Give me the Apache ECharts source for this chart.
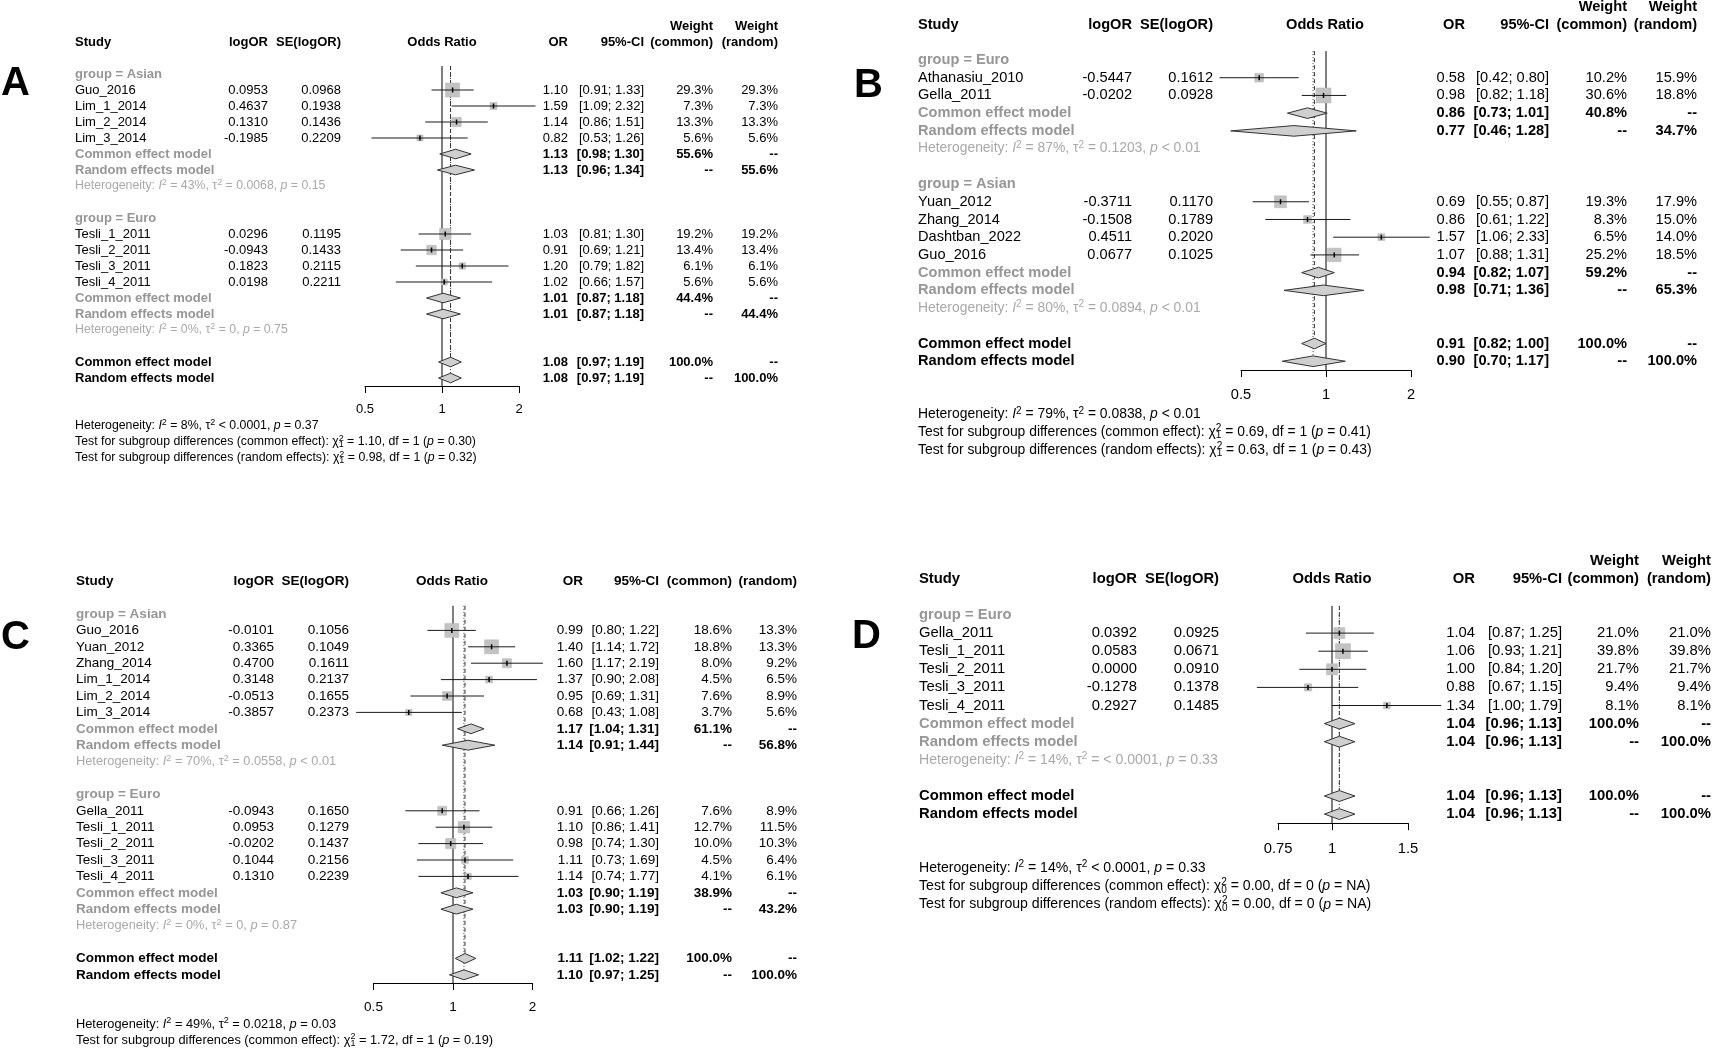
<!DOCTYPE html>
<html><head><meta charset="utf-8">
<script src="https://cdn.jsdelivr.net/npm/echarts@6.0.0/dist/echarts.min.js"></script>
<style>html,body{margin:0;padding:0;background:#fff}#c{width:1713px;height:1049px}</style>
</head><body><div id="c"></div>
<script>
const FONT = 'Liberation Sans, Arial, Helvetica, sans-serif';
const L2 = v => Math.log(v) / Math.LN2;

// ---------- Panel A ----------
const A_study = ['Guo_2016','Lim_1_2014','Lim_2_2014','Lim_3_2014','Tesli_1_2011','Tesli_2_2011','Tesli_3_2011','Tesli_4_2011'];
const A_group = ['Asian','Asian','Asian','Asian','Euro','Euro','Euro','Euro'];
const A_logOR = [0.0953,0.4637,0.1310,-0.1985,0.0296,-0.0943,0.1823,0.0198];
const A_se = [0.0968,0.1938,0.1436,0.2209,0.1195,0.1433,0.2115,0.2211];
const A_or = [1.10,1.59,1.14,0.82,1.03,0.91,1.20,1.02];
const A_lo = [0.91,1.09,0.86,0.53,0.81,0.69,0.79,0.66];
const A_hi = [1.33,2.32,1.51,1.26,1.30,1.21,1.82,1.57];
const A_wc = [29.3,7.3,13.3,5.6,19.2,13.4,6.1,5.6];
const A_wr = [29.3,7.3,13.3,5.6,19.2,13.4,6.1,5.6];
const A_sub = ['Asian','Euro'];
const A_subC = [[1.13,0.98,1.30],[1.01,0.87,1.18]];
const A_subCW = [55.6,44.4];
const A_subR = [[1.13,0.96,1.34],[1.01,0.87,1.18]];
const A_subRW = [55.6,44.4];
const A_subHet = [['43%','= 0.0068','= 0.15'],['0%','= 0','= 0.75']];
const A_allC = [1.08,0.97,1.19];
const A_allR = [1.08,0.97,1.19];
const A_allHet = ['8%','< 0.0001','= 0.37'];
const A_tests = [['common effect','1','1.10','1','= 0.30'],['random effects','1','0.98','1','= 0.32']];

// ---------- Panel B ----------
const B_study = ['Athanasiu_2010','Gella_2011','Yuan_2012','Zhang_2014','Dashtban_2022','Guo_2016'];
const B_group = ['Euro','Euro','Asian','Asian','Asian','Asian'];
const B_logOR = [-0.5447,-0.0202,-0.3711,-0.1508,0.4511,0.0677];
const B_se = [0.1612,0.0928,0.1170,0.1789,0.2020,0.1025];
const B_or = [0.58,0.98,0.69,0.86,1.57,1.07];
const B_lo = [0.42,0.82,0.55,0.61,1.06,0.88];
const B_hi = [0.80,1.18,0.87,1.22,2.33,1.31];
const B_wc = [10.2,30.6,19.3,8.3,6.5,25.2];
const B_wr = [15.9,18.8,17.9,15.0,14.0,18.5];
const B_sub = ['Euro','Asian'];
const B_subC = [[0.86,0.73,1.01],[0.94,0.82,1.07]];
const B_subCW = [40.8,59.2];
const B_subR = [[0.77,0.46,1.28],[0.98,0.71,1.36]];
const B_subRW = [34.7,65.3];
const B_subHet = [['87%','= 0.1203','< 0.01'],['80%','= 0.0894','< 0.01']];
const B_allC = [0.91,0.82,1.00];
const B_allR = [0.90,0.70,1.17];
const B_allHet = ['79%','= 0.0838','< 0.01'];
const B_tests = [['common effect','1','0.69','1','= 0.41'],['random effects','1','0.63','1','= 0.43']];

// ---------- Panel C ----------
const C_study = ['Guo_2016','Yuan_2012','Zhang_2014','Lim_1_2014','Lim_2_2014','Lim_3_2014','Gella_2011','Tesli_1_2011','Tesli_2_2011','Tesli_3_2011','Tesli_4_2011'];
const C_group = ['Asian','Asian','Asian','Asian','Asian','Asian','Euro','Euro','Euro','Euro','Euro'];
const C_logOR = [-0.0101,0.3365,0.4700,0.3148,-0.0513,-0.3857,-0.0943,0.0953,-0.0202,0.1044,0.1310];
const C_se = [0.1056,0.1049,0.1611,0.2137,0.1655,0.2373,0.1650,0.1279,0.1437,0.2156,0.2239];
const C_or = [0.99,1.40,1.60,1.37,0.95,0.68,0.91,1.10,0.98,1.11,1.14];
const C_lo = [0.80,1.14,1.17,0.90,0.69,0.43,0.66,0.86,0.74,0.73,0.74];
const C_hi = [1.22,1.72,2.19,2.08,1.31,1.08,1.26,1.41,1.30,1.69,1.77];
const C_wc = [18.6,18.8,8.0,4.5,7.6,3.7,7.6,12.7,10.0,4.5,4.1];
const C_wr = [13.3,13.3,9.2,6.5,8.9,5.6,8.9,11.5,10.3,6.4,6.1];
const C_sub = ['Asian','Euro'];
const C_subC = [[1.17,1.04,1.31],[1.03,0.90,1.19]];
const C_subCW = [61.1,38.9];
const C_subR = [[1.14,0.91,1.44],[1.03,0.90,1.19]];
const C_subRW = [56.8,43.2];
const C_subHet = [['70%','= 0.0558','< 0.01'],['0%','= 0','= 0.87']];
const C_allC = [1.11,1.02,1.22];
const C_allR = [1.10,0.97,1.25];
const C_allHet = ['49%','= 0.0218','= 0.03'];
const C_tests = [['common effect','1','1.72','1','= 0.19']];

// ---------- Panel D ----------
const D_study = ['Gella_2011','Tesli_1_2011','Tesli_2_2011','Tesli_3_2011','Tesli_4_2011'];
const D_group = ['Euro','Euro','Euro','Euro','Euro'];
const D_logOR = [0.0392,0.0583,0.0000,-0.1278,0.2927];
const D_se = [0.0925,0.0671,0.0910,0.1378,0.1485];
const D_or = [1.04,1.06,1.00,0.88,1.34];
const D_lo = [0.87,0.93,0.84,0.67,1.00];
const D_hi = [1.25,1.21,1.20,1.15,1.79];
const D_wc = [21.0,39.8,21.7,9.4,8.1];
const D_wr = [21.0,39.8,21.7,9.4,8.1];
const D_sub = ['Euro'];
const D_subC = [[1.04,0.96,1.13]];
const D_subCW = [100.0];
const D_subR = [[1.04,0.96,1.13]];
const D_subRW = [100.0];
const D_subHet = [['14%','= < 0.0001','= 0.33']];
const D_allC = [1.04,0.96,1.13];
const D_allR = [1.04,0.96,1.13];
const D_allHet = ['14%','< 0.0001','= 0.33'];
const D_tests = [['common effect','0','0.00','0','= NA'],['random effects','0','0.00','0','= NA']];

// tick labels
const A_ticks = [0.5,1,2], B_ticks = [0.5,1,2], C_ticks = [0.5,1,2], D_ticks = [0.75,1,1.5];

const PANELS = {
  A:{study:A_study,group:A_group,logOR:A_logOR,se:A_se,or:A_or,lo:A_lo,hi:A_hi,wc:A_wc,wr:A_wr,sub:A_sub,subC:A_subC,subCW:A_subCW,subR:A_subR,subRW:A_subRW,subHet:A_subHet,allC:A_allC,allR:A_allR,allHet:A_allHet,tests:A_tests,ticks:A_ticks},
  B:{study:B_study,group:B_group,logOR:B_logOR,se:B_se,or:B_or,lo:B_lo,hi:B_hi,wc:B_wc,wr:B_wr,sub:B_sub,subC:B_subC,subCW:B_subCW,subR:B_subR,subRW:B_subRW,subHet:B_subHet,allC:B_allC,allR:B_allR,allHet:B_allHet,tests:B_tests,ticks:B_ticks},
  C:{study:C_study,group:C_group,logOR:C_logOR,se:C_se,or:C_or,lo:C_lo,hi:C_hi,wc:C_wc,wr:C_wr,sub:C_sub,subC:C_subC,subCW:C_subCW,subR:C_subR,subRW:C_subRW,subHet:C_subHet,allC:C_allC,allR:C_allR,allHet:C_allHet,tests:C_tests,ticks:C_ticks},
  D:{study:D_study,group:D_group,logOR:D_logOR,se:D_se,or:D_or,lo:D_lo,hi:D_hi,wc:D_wc,wr:D_wr,sub:D_sub,subC:D_subC,subCW:D_subCW,subR:D_subR,subRW:D_subRW,subHet:D_subHet,allC:D_allC,allR:D_allR,allHet:D_allHet,tests:D_tests,ticks:D_ticks}
};

// layout (pixels)
const LAYOUT = {
  A:{studyX:75,cLog:268,cSe:341,oddsC:442,cOR:568,cCI:644,cWC:713,cWR:778,fs:13,row0:74,step:16,x1:442,ppl:77,weightHdr:true,maxSq:14,margin:17,letter:[1,84]},
  B:{studyX:918,cLog:1132,cSe:1213,oddsC:1325,cOR:1465,cCI:1549,cWC:1627,cWR:1697,fs:14.6,row0:60,step:17.72,x1:1326,ppl:85,weightHdr:true,maxSq:15,margin:17,letter:[854,86]},
  C:{studyX:76,cLog:274,cSe:349,oddsC:452,cOR:583,cCI:659,cWC:732,cWR:797,fs:13.5,row0:614,step:16.4,x1:453,ppl:79.5,weightHdr:false,maxSq:14,margin:17,letter:[1,638]},
  D:{studyX:919,cLog:1137,cSe:1219,oddsC:1332,cOR:1475,cCI:1562,cWC:1639,cWR:1711,fs:14.8,row0:615,step:18.1,x1:1332,ppl:130,weightHdr:true,maxSq:15,margin:18,letter:[852,637]}
};

const GREY = '#969696', HGREY = '#a9a9a9', SQ = '#c3c3c3', DIA = '#cfcfcf';

function buildRows(P){
  const rows = [];
  P.sub.forEach((g, gi) => {
    rows.push({t:'group', gi});
    P.study.forEach((s, i) => { if (P.group[i] === g) rows.push({t:'study', i}); });
    rows.push({t:'sc', gi}); rows.push({t:'sr', gi}); rows.push({t:'het', gi}); rows.push({t:'blank'});
  });
  rows.push({t:'oc'}); rows.push({t:'or'});
  return rows;
}

function richFor(fs, color, weight){
  const base = {fontFamily:FONT, fontWeight:weight, fill:color};
  const s = Math.round(fs*0.74), lh = Math.round(fs*0.72);
  return {
    it: Object.assign({}, base, {fontSize:fs, fontStyle:'italic'}),
    sup: Object.assign({}, base, {fontSize:s, fontStyle:'normal', verticalAlign:'top', lineHeight:lh}),
    supz: Object.assign({}, base, {fontSize:s, fontStyle:'normal', verticalAlign:'top', lineHeight:lh, width:0}),
    sub: Object.assign({}, base, {fontSize:s, fontStyle:'normal', verticalAlign:'bottom', lineHeight:lh})
  };
}

function T(x, y, text, o){
  const fs = o.fs, align = o.align || 'left';
  const st = {x, y, text, fontFamily:FONT, fontSize:fs, fontWeight:o.bold ? 'bold' : 'normal', fontStyle:'normal',
    fill:o.color || '#000', align, textAlign:align, verticalAlign:'middle', textVerticalAlign:'middle', lineHeight:Math.round(fs*1.25)};
  if (o.rich) st.rich = o.rich;
  return {type:'text', silent:true, style:st};
}

const f2 = v => v.toFixed(2), f4 = v => v.toFixed(4), pct = v => v.toFixed(1) + '%';
const ci = (lo, hi) => '[' + f2(lo) + '; ' + f2(hi) + ']';
const hetText = h => 'Heterogeneity: {it|I}{sup|2} = ' + h[0] + ', \u03c4{sup|2} ' + h[1] + ', {it|p} ' + h[2];
const testText = t => 'Test for subgroup differences (' + t[0] + '): \u03c7{supz|2}{sub|' + t[1] + '} = ' + t[2] + ', df = ' + t[3] + ' ({it|p} ' + t[4] + ')';

const grids = [], xAxes = [], yAxes = [], series = [], graphics = [];

['A','B','C','D'].forEach((key, k) => {
  const P = PANELS[key], L = LAYOUT[key];
  const rows = buildRows(P), n = rows.length;
  const tk = P.ticks, t0 = L2(tk[0]), t1 = L2(tk[tk.length-1]);
  const fs = L.fs, hfs = +(fs*0.95).toFixed(1), hh = L.step*0.3;
  const wmax = Math.max.apply(null, P.wc);
  grids.push({left:L.x1 + L.ppl*t0, width:L.ppl*(t1 - t0), top:L.row0 - L.step/2, height:n*L.step, containLabel:false});
  xAxes.push({gridIndex:k, type:'value', min:t0, max:t1,
    axisLine:{show:true, onZero:false, lineStyle:{color:'#000', width:1}},
    axisTick:{show:true, length:7, customValues:tk.map(L2), lineStyle:{color:'#000', width:1}},
    axisLabel:{show:true, customValues:tk.map(L2), margin:L.margin, fontSize:fs, fontFamily:FONT, color:'#000',
      formatter: v => { let best = tk[0]; tk.forEach(t => { if (Math.abs(L2(t) - v) < Math.abs(L2(best) - v)) best = t; }); return String(best); }},
    splitLine:{show:false}});
  yAxes.push({gridIndex:k, type:'value', inverse:true, min:-0.5, max:n - 0.5, show:false});

  // reference lines
  series.push({type:'custom', coordinateSystem:'cartesian2d', xAxisIndex:k, yAxisIndex:k, silent:true, z:1,
    data:[[0,0]],
    renderItem:(params, api) => {
      const top = api.coord([0,-0.5])[1], bot = api.coord([0,n-0.5])[1];
      const x1 = api.coord([0,0])[0];
      const xc = api.coord([L2(P.allC[0]),0])[0], xr = api.coord([L2(P.allR[0]),0])[0];
      const yc = api.coord([0,n-2])[1] - hh, yr = api.coord([0,n-1])[1] - hh;
      return {type:'group', children:[
        {type:'line', shape:{x1:x1, y1:top, x2:x1, y2:bot}, style:{stroke:'#000', lineWidth:1}},
        {type:'line', shape:{x1:xc, y1:top, x2:xc, y2:yc}, style:{stroke:'#333', lineWidth:1, lineDash:[4,3]}},
        {type:'line', shape:{x1:xr, y1:top, x2:xr, y2:yr}, style:{stroke:'#333', lineWidth:1, lineDash:[1,2]}}
      ]};
    }});

  // rows
  series.push({type:'custom', coordinateSystem:'cartesian2d', xAxisIndex:k, yAxisIndex:k, silent:true, z:2,
    data:rows.map((r, i) => [0, i]), encode:{x:0, y:1},
    renderItem:(params, api) => {
      const i = params.dataIndex, r = rows[i];
      const y = api.coord([0,i])[1];
      const X = v => api.coord([L2(v), i])[0];
      const ch = [];
      const diamond = (e, fill) => ch.push({type:'polygon', shape:{points:[[X(e[1]),y],[X(e[0]),y-hh],[X(e[2]),y],[X(e[0]),y+hh]]},
        style:{fill:fill, stroke:'#333', lineWidth:1}});
      const nums = (e, wc, wr) => {
        ch.push(T(L.cOR, y, f2(e[0]), {fs, bold:true, align:'right'}));
        ch.push(T(L.cCI, y, ci(e[1], e[2]), {fs, bold:true, align:'right'}));
        ch.push(T(L.cWC, y, wc, {fs, bold:true, align:'right'}));
        ch.push(T(L.cWR, y, wr, {fs, bold:true, align:'right'}));
      };
      if (r.t === 'group') {
        ch.push(T(L.studyX, y, 'group = ' + P.sub[r.gi], {fs, bold:true, color:GREY}));
      } else if (r.t === 'study') {
        const j = r.i, sz = L.maxSq*Math.sqrt(P.wc[j]/wmax), xo = X(P.or[j]);
        ch.push({type:'rect', shape:{x:xo - sz/2, y:y - sz/2, width:sz, height:sz}, style:{fill:SQ, stroke:'#b5b5b5', lineWidth:0.5}});
        ch.push({type:'line', shape:{x1:X(P.lo[j]), y1:y, x2:X(P.hi[j]), y2:y}, style:{stroke:'#1a1a1a', lineWidth:1}});
        ch.push({type:'line', shape:{x1:xo, y1:y - 2.5, x2:xo, y2:y + 2.5}, style:{stroke:'#000', lineWidth:1.5}});
        ch.push(T(L.studyX, y, P.study[j], {fs}));
        ch.push(T(L.cLog, y, f4(P.logOR[j]), {fs, align:'right'}));
        ch.push(T(L.cSe, y, f4(P.se[j]), {fs, align:'right'}));
        ch.push(T(L.cOR, y, f2(P.or[j]), {fs, align:'right'}));
        ch.push(T(L.cCI, y, ci(P.lo[j], P.hi[j]), {fs, align:'right'}));
        ch.push(T(L.cWC, y, pct(P.wc[j]), {fs, align:'right'}));
        ch.push(T(L.cWR, y, pct(P.wr[j]), {fs, align:'right'}));
      } else if (r.t === 'sc') {
        ch.push(T(L.studyX, y, 'Common effect model', {fs, bold:true, color:GREY}));
        diamond(P.subC[r.gi], DIA);
        nums(P.subC[r.gi], pct(P.subCW[r.gi]), '--');
      } else if (r.t === 'sr') {
        ch.push(T(L.studyX, y, 'Random effects model', {fs, bold:true, color:GREY}));
        diamond(P.subR[r.gi], DIA);
        nums(P.subR[r.gi], '--', pct(P.subRW[r.gi]));
      } else if (r.t === 'het') {
        ch.push(T(L.studyX, y, hetText(P.subHet[r.gi]), {fs:hfs, color:HGREY, rich:richFor(hfs, HGREY, 'normal')}));
      } else if (r.t === 'oc') {
        ch.push(T(L.studyX, y, 'Common effect model', {fs, bold:true}));
        diamond(P.allC, DIA);
        nums(P.allC, '100.0%', '--');
      } else if (r.t === 'or') {
        ch.push(T(L.studyX, y, 'Random effects model', {fs, bold:true}));
        diamond(P.allR, DIA);
        nums(P.allR, '--', '100.0%');
      }
      return {type:'group', children:ch};
    }});

  // headers + footers
  series.push({type:'custom', coordinateSystem:'cartesian2d', xAxisIndex:k, yAxisIndex:k, silent:true, z:2,
    data:[[0,0]],
    renderItem:(params, api) => {
      const yr = row => api.coord([0,row])[1];
      const h2 = yr(-2), h1 = yr(-3);
      const ch = [
        T(L.studyX, h2, 'Study', {fs, bold:true}),
        T(L.cLog, h2, 'logOR', {fs, bold:true, align:'right'}),
        T(L.cSe, h2, 'SE(logOR)', {fs, bold:true, align:'right'}),
        T(L.oddsC, h2, 'Odds Ratio', {fs, bold:true, align:'center'}),
        T(L.cOR, h2, 'OR', {fs, bold:true, align:'right'}),
        T(L.cCI, h2, '95%-CI', {fs, bold:true, align:'right'}),
        T(L.cWC, h2, '(common)', {fs, bold:true, align:'right'}),
        T(L.cWR, h2, '(random)', {fs, bold:true, align:'right'})
      ];
      if (L.weightHdr) {
        ch.push(T(L.cWC, h1, 'Weight', {fs, bold:true, align:'right'}));
        ch.push(T(L.cWR, h1, 'Weight', {fs, bold:true, align:'right'}));
      }
      const rich = richFor(hfs, '#000', 'normal');
      ch.push(T(L.studyX, yr(n + 2), hetText(P.allHet), {fs:hfs, rich}));
      P.tests.forEach((t, ti) => ch.push(T(L.studyX, yr(n + 3 + ti), testText(t), {fs:hfs, rich})));
      return {type:'group', children:ch};
    }});

  graphics.push({type:'text', x:L.letter[0], y:L.letter[1], silent:true,
    style:{text:key, fontFamily:FONT, fontSize:40, fontWeight:'bold', fill:'#000', align:'left', textAlign:'left', verticalAlign:'middle', textVerticalAlign:'middle'}});
});

const chart = echarts.init(document.getElementById('c'), null, {renderer:'canvas'});
chart.setOption({
  animation:false,
  backgroundColor:'#fff',
  textStyle:{fontFamily:FONT},
  grid:grids, xAxis:xAxes, yAxis:yAxes, series:series, graphic:graphics
});
</script>
</body></html>
